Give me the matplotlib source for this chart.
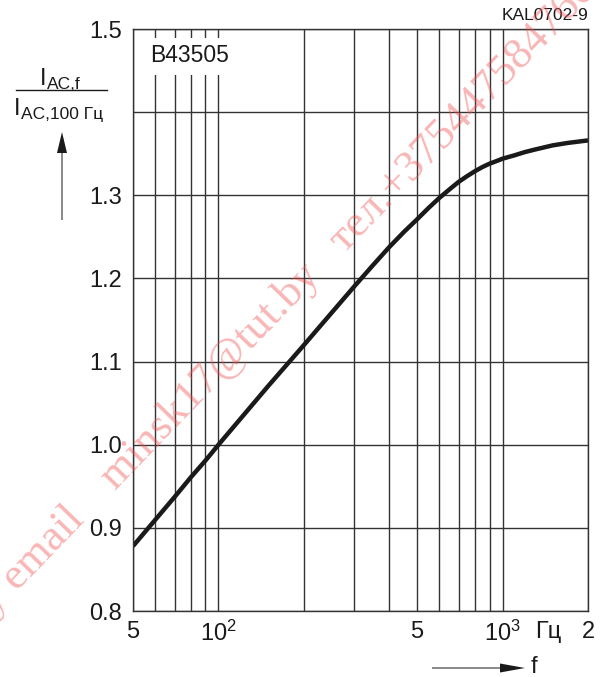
import matplotlib
matplotlib.use("Agg")
import matplotlib.pyplot as plt
from matplotlib.patches import FancyArrow, Rectangle

plt.rcParams['font.family'] = ['Liberation Sans', 'DejaVu Sans']

# ---- data ----
freq = [50, 60, 70, 80, 90, 100, 150, 200, 300, 350, 400, 450, 500, 550, 600, 650, 700, 750,
        800, 850, 900, 950, 1000, 1100, 1200, 1300, 1500, 1700, 2000]
ratio = [0.878, 0.910, 0.937, 0.961, 0.981, 1.000, 1.071, 1.120, 1.190, 1.216, 1.238, 1.256,
         1.271, 1.285, 1.297, 1.307, 1.316, 1.323, 1.329, 1.334, 1.338, 1.341, 1.344, 1.348,
         1.352, 1.355, 1.360, 1.363, 1.366]
grid_x = [50, 60, 70, 80, 90, 100, 200, 300, 400, 500, 600, 700, 800, 900, 1000, 2000]
xtick_pos = [50, 100, 500, 1000, 1445, 2000]
xtick_lbl = ["5", r"$\mathregular{10^2}$", "5", r"$\mathregular{10^3}$", "Гц", "2"]
ytick_pos = [0.8, 0.9, 1.0, 1.1, 1.2, 1.3, 1.4, 1.5]
ytick_lbl = ["0.8", "0.9", "1.0", "1.1", "1.2", "1.3", "", "1.5"]

W, H = 603, 677
fig = plt.figure(figsize=(W / 100, H / 100), dpi=100)
ax = fig.add_axes([133 / W, 1 - 611 / H, (588 - 133) / W, (611 - 29) / H])

def P(x, y):
    return (x / W, 1 - y / H)

gcol = '#333333'
ax.set_xscale('log')
ax.set_xlim(50, 2000)
ax.set_ylim(0.8, 1.5)
ax.xaxis.remove_overlapping_locs = False
ax.set_xticks(grid_x, minor=True)
ax.set_xticks(xtick_pos)
ax.set_xticklabels(xtick_lbl)
ax.xaxis.set_minor_formatter(matplotlib.ticker.NullFormatter())
ax.set_yticks(ytick_pos)
ax.set_yticklabels(ytick_lbl)
ax.tick_params(which='both', length=0, labelsize=17, colors='#1a1a1a')
ax.tick_params(axis='x', pad=7)
ax.tick_params(axis='y', pad=8)
ax.grid(False, which='major', axis='x')
ax.grid(True, which='minor', axis='x', color=gcol, lw=1.0)
ax.grid(True, which='major', axis='y', color=gcol, lw=1.0)
for s in ax.spines.values():
    s.set_color(gcol)
    s.set_linewidth(1.0)
    s.set_zorder(5)

ax.plot(freq, ratio, color='#1a1a1a', lw=3.2, solid_capstyle='butt', zorder=3)

# white box behind the type label
ax.add_patch(Rectangle((2 / 455, (611 - 75) / 582), 96 / 455, 37 / 582, transform=ax.transAxes,
                       fc='white', ec='none', zorder=3.5))
ax.text(17 / 455, (611 - 56) / 582, "B43505", transform=ax.transAxes, fontsize=16.5,
        color='#1a1a1a', ha='left', va='center', zorder=4)

fig.text(*P(588, 15), "KAL0702-9", fontsize=12.5, ha='right', va='center', color='#1a1a1a')

# y-axis label (fraction)
fig.text(*P(40, 85), "I", fontsize=17, ha='left', va='baseline', color='#1a1a1a')
fig.text(*P(47, 89), "AC,f", fontsize=12.5, ha='left', va='baseline', color='#1a1a1a')
fig.add_artist(plt.Line2D([16 / W, 107 / W], [1 - 90 / H, 1 - 90 / H], color='#1a1a1a', lw=1.0))
fig.text(*P(14, 115), "I", fontsize=17, ha='left', va='baseline', color='#1a1a1a')
fig.text(*P(21, 119), "AC,100 Гц", fontsize=12.5, ha='left', va='baseline', color='#1a1a1a')
ax_arrow = fig.add_axes([0, 0, 1, 1], facecolor='none')
ax_arrow.set_xlim(0, W)
ax_arrow.set_ylim(H, 0)
ax_arrow.axis('off')
ax_arrow.add_patch(FancyArrow(62, 220, 0, -88, width=1.0, head_width=10, head_length=21,
                              length_includes_head=True, color='#1a1a1a', lw=0))
ax_arrow.add_patch(FancyArrow(432, 668, 93, 0, width=1.0, head_width=9, head_length=25,
                              length_includes_head=True, color='#1a1a1a', lw=0))
fig.text(*P(531, 673), "f", fontsize=17, ha='left', va='baseline', color='#1a1a1a')

# watermark
wm_kw = dict(fontsize=32, family=['Liberation Serif', 'DejaVu Serif'], color='#f05050', alpha=0.42,
             rotation=46, rotation_mode='anchor', va='baseline', zorder=10)
fig.text(*P(86, 521), "by email", ha='right', **wm_kw)
fig.text(*P(116, 491), "minsk17@tut.by   тел.+375447584760", ha='left', **wm_kw)

fig.savefig("out.png", dpi=100)
